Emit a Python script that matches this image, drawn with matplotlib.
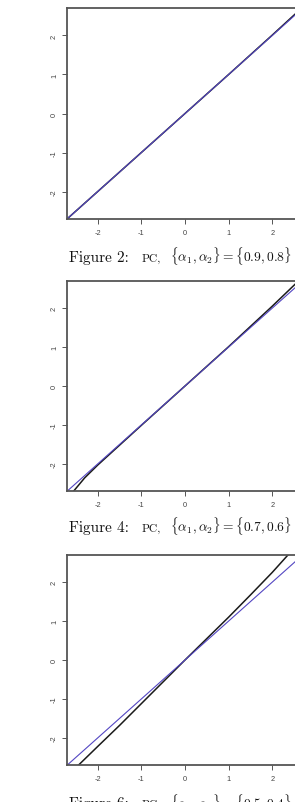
import matplotlib
matplotlib.use("Agg")
import matplotlib.pyplot as plt

# ---------------- data ----------------
captions = ["Figure 2:", "Figure 4:", "Figure 6:"]
caption_params = [r"$\{\alpha_1,\alpha_2\}=\{0.9,0.8\}$",
                  r"$\{\alpha_1,\alpha_2\}=\{0.7,0.6\}$",
                  r"$\{\alpha_1,\alpha_2\}=\{0.5,0.4\}$"]
method_label = "PC,"

tick_values = [-2, -1, 0, 1, 2]
tick_labels = ["-2", "-1", "0", "1", "2"]
axis_limits = (-2.705, 2.705)

# sample quantiles (black) against theoretical quantiles
x_fig2 = [-2.75, -2.0, -1.0, 0.0, 1.0, 2.0, 2.75]
y_fig2 = [-2.75, -2.0, -1.0, 0.0, 1.0, 2.01, 2.78]

x_fig4 = [-2.56, -2.3, -2.0, -1.0, 0.0, 1.0, 1.5, 2.0, 2.52, 2.62]
y_fig4 = [-2.71, -2.36, -2.03, -1.01, 0.0, 1.01, 1.53, 2.05, 2.61, 2.72]

x_fig6 = [-2.45, -2.0, -1.5, -1.0, -0.5, 0.0, 0.5, 1.0, 1.5, 2.0, 2.37]
y_fig6 = [-2.71, -2.22, -1.68, -1.12, -0.56, 0.0, 0.55, 1.1, 1.67, 2.25, 2.71]

# reference line (blue): slope, intercept
ref_slope = [1.0, 1.0, 1.0]
ref_intercept = [0.0, 0.0, 0.0]

series_x = [x_fig2, x_fig4, x_fig6]
series_y = [y_fig2, y_fig4, y_fig6]

# ---------------- layout ----------------
W, H = 295, 803
plt.rcParams['mathtext.fontset'] = 'cm'
fig = plt.figure(figsize=(W / 100, H / 100), dpi=100)
fig.patch.set_facecolor("white")

panel_tops = [9.0, 281.7, 555.7]
panel_bottoms = [220.0, 492.3, 766.3]
caption_baselines = [261.7, 531.7, 808.0]
ax_left_px = 67.0
ax_width_px = 236.0

blue = "#5346c2"
spine_col = "#555555"
tick_col = "#555555"

for i in range(3):
    top, bot = panel_tops[i], panel_bottoms[i]
    ax = fig.add_axes([ax_left_px / W, 1 - bot / H, ax_width_px / W, (bot - top) / H])
    ax.set_xlim(*axis_limits)
    ax.set_ylim(*axis_limits)
    ax.plot(series_x[i], series_y[i], color="#1a1a1a", lw=1.1, solid_capstyle="butt")
    ax.axline((0, ref_intercept[i]), slope=ref_slope[i], color=blue, lw=0.8)
    for s in ax.spines.values():
        s.set_color(spine_col)
        s.set_linewidth(1.3)
    ax.set_xticks(tick_values)
    ax.set_yticks(tick_values)
    ax.set_xticklabels(tick_labels, fontsize=5.3, family="Liberation Sans", color="#444444")
    ax.set_yticklabels(tick_labels, fontsize=5.3, family="Liberation Sans", color="#444444",
                       rotation=90, va="center")
    ax.tick_params(axis="both", direction="out", length=3.5, width=0.7, color=tick_col)
    ax.tick_params(axis="x", pad=3.5)
    ax.tick_params(axis="y", pad=3.0)

    yb = 1 - caption_baselines[i] / H
    fig.text(69.3 / W, yb, captions[i], fontsize=11, family="cmr10", va="baseline",
             ha="left", color="#111111")
    fig.text(141.7 / W, yb, method_label, fontsize=8.3, family="cmr10", va="baseline",
             ha="left", color="#111111")
    fig.text(170.0 / W, yb, caption_params[i], fontsize=9.7, va="baseline",
             ha="left", color="#111111")
    # sliver of neighbouring caption on the left edge
    fig.text(-7.0 / W, yb, r"$\}$", fontsize=9.0, va="baseline", ha="left", color="#111111")

fig.savefig("out.png", dpi=100)
